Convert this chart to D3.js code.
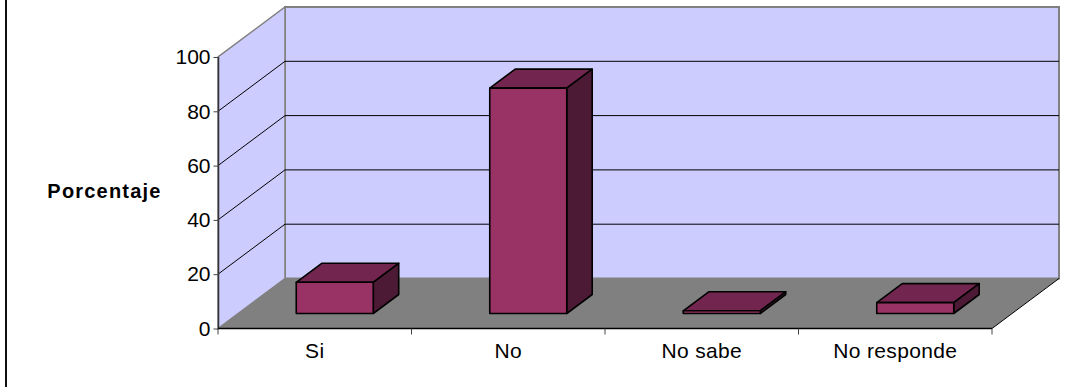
<!DOCTYPE html>
<html>
<head>
<meta charset="utf-8">
<script src="https://cdn.jsdelivr.net/npm/d3@7"></script>
<style>
html,body{margin:0;padding:0;background:#fff}
svg{display:block}
text{font-family:"Liberation Sans",Arial,sans-serif;fill:#000}
</style>
</head>
<body>
<svg id="chart" width="1076" height="387"></svg>
<script>
const categories = ["Si", "No", "No sabe", "No responde"];
const values = [11.5, 83, 1, 4];
const yTicks = [0, 20, 40, 60, 80, 100];
const axisTitle = "Porcentaje";

const svg = d3.select("#chart");
const left = 218, right = 992, top3d = 57, base = 328.5;
const depthX = 67, depthY = 50;

const x = d3.scaleBand().domain(categories).range([left, right]);
const y = d3.scaleLinear().domain([0, 100]).range([base, top3d]);
// Depth axis: 0 is the front edge of the floor, 1 is the back wall.
const dx = d3.scaleLinear().domain([0, 1]).range([0, depthX]);
const dy = d3.scaleLinear().domain([0, 1]).range([0, -depthY]);

const line = d3.line();
const poly = pts => line(pts) + "Z";
const at = (px, v, d) => [px + dx(d), y(v) + dy(d)];

const wallFill = "#ccccff", floorFill = "#808080", edge = "#808080";

// Left rule of the chart area
svg.append("line").attr("x1", 6).attr("x2", 6).attr("y1", 0).attr("y2", 387)
  .attr("stroke", "#111").attr("stroke-width", 2);

// Back wall, side wall and floor
svg.append("path")
  .attr("d", poly([at(left, 100, 1), at(right, 100, 1), at(right, 0, 1), at(left, 0, 1)]))
  .attr("fill", wallFill).attr("stroke", edge).attr("stroke-width", 2);
svg.append("path")
  .attr("d", poly([at(left, 0, 0), at(left, 100, 0), at(left, 100, 1), at(left, 0, 1)]))
  .attr("fill", wallFill).attr("stroke", edge).attr("stroke-width", 1.5);
svg.append("path")
  .attr("d", poly([at(left, 0, 0), at(right, 0, 0), at(right, 0, 1), at(left, 0, 1)]))
  .attr("fill", floorFill);

// Gridlines run along the side wall and across the back wall
svg.append("g").selectAll("path").data(yTicks.filter(t => t > 0 && t < 100)).join("path")
  .attr("d", t => line([at(left, t, 0), at(left, t, 1), at(right, t, 1)]))
  .attr("fill", "none").attr("stroke", "#000").attr("stroke-width", 1);

// Right edge of the floor
svg.append("path").attr("d", line([at(right, 0, 0), at(right, 0, 1)]))
  .attr("fill", "none").attr("stroke", "#000").attr("stroke-width", 1);

// Bars
const barW = 77, barFront = 0.30, barBack = 0.68;
const barOffset = (x.bandwidth() - barW) / 2 + 20 - dx(barFront);
const bars = svg.append("g").selectAll("g")
  .data(categories.map((c, i) => ({c, v: values[i]})))
  .join("g")
  .attr("stroke", "#000").attr("stroke-width", 1.6).attr("stroke-linejoin", "round");
const x0 = d => x(d.c) + barOffset, x1 = d => x0(d) + barW;
bars.append("path").attr("fill", "#72264f")
  .attr("d", d => poly([at(x0(d), d.v, barFront), at(x1(d), d.v, barFront), at(x1(d), d.v, barBack), at(x0(d), d.v, barBack)]));
bars.append("path").attr("fill", "#4d1a35")
  .attr("d", d => poly([at(x1(d), 0, barFront), at(x1(d), d.v, barFront), at(x1(d), d.v, barBack), at(x1(d), 0, barBack)]));
bars.append("path").attr("fill", "#993366")
  .attr("d", d => poly([at(x0(d), 0, barFront), at(x1(d), 0, barFront), at(x1(d), d.v, barFront), at(x0(d), d.v, barFront)]));

// Value axis
const yAxis = svg.append("g").attr("transform", `translate(${left + 0.5},0)`)
  .call(d3.axisLeft(y).tickValues(yTicks).tickSize(5).tickPadding(3));
yAxis.select(".domain").attr("stroke", "#333").attr("stroke-width", 1.5).attr("d", `M0,${top3d}V${base}`);
yAxis.selectAll("line").attr("stroke", "#444");
yAxis.selectAll("text").style("font-size", "21px");

// Category axis
const xAxis = svg.append("g").attr("transform", `translate(0,${base})`)
  .call(d3.axisBottom(x).tickSize(0).tickPadding(15));
xAxis.select(".domain").attr("stroke", "#000").attr("stroke-width", 1.3).attr("d", `M${left},0H${right}`);
xAxis.selectAll("text").style("font-size", "21px").style("letter-spacing", "0.35px");
svg.append("g").selectAll("line").data(d3.range(categories.length + 1)).join("line")
  .attr("x1", i => left + i * x.step()).attr("x2", i => left + i * x.step())
  .attr("y1", base).attr("y2", base + 6).attr("stroke", "#444");

// Value axis title
svg.append("text").attr("x", 104.5).attr("y", 198).attr("text-anchor", "middle")
  .style("font-size", "20px").style("font-weight", "bold").style("letter-spacing", "1.2px").text(axisTitle);
</script>
</body>
</html>
